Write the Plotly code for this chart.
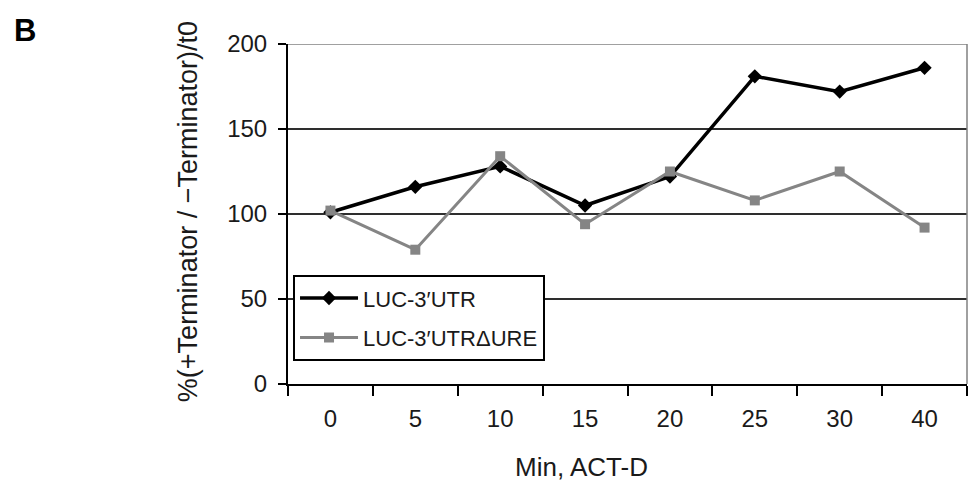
import plotly.graph_objects as go

# Sampling times after actinomycin D (min)
minutes = ["0", "5", "10", "15", "20", "25", "30", "40"]

# %(+Terminator / -Terminator)/t0 for each reporter
luc_utr = [101, 116, 128, 105, 122, 181, 172, 186]
luc_utr_dure = [102, 79, 134, 94, 125, 108, 125, 92]

y_ticks = [0, 50, 100, 150, 200]

fig = go.Figure()

fig.add_trace(go.Scatter(
    x=minutes, y=luc_utr, name="LUC-3\u2032UTR", legendgroup="utr",
    mode="lines+markers",
    line=dict(color="#000000", width=3.5),
    marker=dict(symbol="diamond", size=11, color="#000000"),
))
fig.add_trace(go.Scatter(
    x=minutes, y=luc_utr_dure, name="LUC-3\u2032UTR\u0394URE", legendgroup="dure",
    mode="lines+markers",
    line=dict(color="#858585", width=3),
    marker=dict(symbol="square", size=10, color="#858585"),
))

font = "Liberation Sans, Arial, sans-serif"

fig.update_layout(
    width=973, height=487,
    margin=dict(l=288, r=6, t=44, b=103),
    paper_bgcolor="white", plot_bgcolor="white",
    font=dict(family=font, size=24, color="#1a1a1a"),
    showlegend=True,
    legend=dict(
        x=0.0074, y=0.32, xanchor="left", yanchor="top",
        bgcolor="white", bordercolor="#000000", borderwidth=2,
        font=dict(size=22, color="#1a1a1a"),
        itemwidth=58, tracegroupgap=8,
    ),
    xaxis=dict(
        type="category", range=[-0.5, 7.5],
        tickson="boundaries", ticks="outside", ticklen=10, tickwidth=1.5,
        tickcolor="#000000", ticklabelstandoff=12,
        showline=True, linecolor="#000000", linewidth=2,
        showgrid=False, zeroline=False,
        tickfont=dict(size=24),
    ),
    yaxis=dict(
        range=[0, 200], tickvals=y_ticks,
        ticks="outside", ticklen=8, tickwidth=1.5, tickcolor="#000000",
        ticklabelstandoff=6,
        showline=True, linecolor="#000000", linewidth=2,
        showgrid=True, gridcolor="#2e2e2e", gridwidth=1.5,
        zeroline=False,
        tickfont=dict(size=24),
    ),
)

# Thin grey frame on the top and right of the plotting area
fig.add_shape(type="line", xref="paper", yref="y", x0=0, x1=1, y0=200, y1=200,
              line=dict(color="#808080", width=1.5))
fig.add_shape(type="line", xref="paper", yref="paper", x0=1, x1=1, y0=0, y1=1,
              line=dict(color="#808080", width=1.5))

# Axis titles
fig.add_annotation(text="Min, ACT-D", xref="paper", yref="paper",
                   x=0.432, y=-0.244, xanchor="center", yanchor="middle",
                   showarrow=False, font=dict(size=26, color="#1a1a1a"))
fig.add_annotation(text="%(+Terminator / \u2212Terminator)/t0",
                   xref="paper", yref="paper", textangle=-90,
                   x=-0.147, y=0.506, xanchor="center", yanchor="middle",
                   showarrow=False, font=dict(size=27, color="#1a1a1a"))

# Panel letter
fig.add_annotation(text="<b>B</b>", xref="paper", yref="paper",
                   x=-0.388, y=1.041, xanchor="center", yanchor="middle",
                   showarrow=False, font=dict(size=31, color="#000000"))

fig.write_html("out.html")
